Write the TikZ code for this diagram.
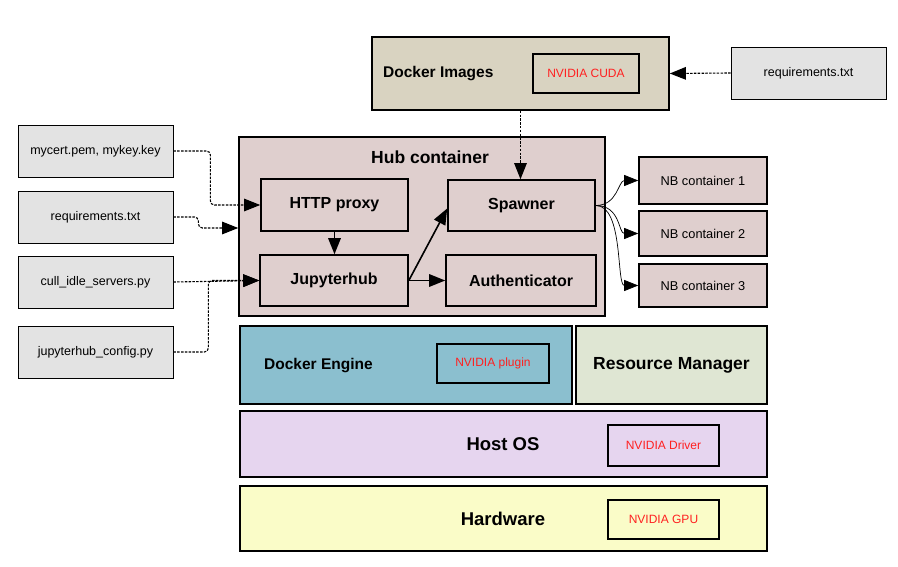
\documentclass[tikz,border=0pt]{standalone}
\usepackage{fontspec}
\setmainfont{Liberation Sans}
\usetikzlibrary{arrows.meta}
\definecolor{imgfill}{HTML}{D9D3C1}
\definecolor{hubfill}{HTML}{DFCFCE}
\definecolor{greyfill}{HTML}{E3E3E3}
\definecolor{engfill}{HTML}{8BBFCF}
\definecolor{rmfill}{HTML}{DFE6D3}
\definecolor{osfill}{HTML}{E6D5EF}
\definecolor{hwfill}{HTML}{FAFCC8}
\definecolor{nvred}{HTML}{FF2020}
\begin{document}
\begin{tikzpicture}[x=1pt,y=-1pt,
  blk/.style={draw=black, line width=1.6pt, inner sep=0pt, rectangle},
  inner/.style={blk, fill=hubfill, font=\fontsize{16}{19}\selectfont\bfseries},
  nbbox/.style={blk, fill=hubfill, font=\fontsize{12.8}{15}\selectfont},
  filebox/.style={draw=black, line width=0.8pt, fill=greyfill, inner sep=0pt, font=\fontsize{12.5}{15}\selectfont},
  nvbox/.style={blk, text=nvred, font=\fontsize{12}{14}\selectfont},
  bigtxt/.style={inner sep=0pt, font=\fontsize{15.5}{18}\selectfont\bfseries},
  hugetxt/.style={inner sep=0pt, font=\fontsize{17.5}{20}\selectfont\bfseries},
  hosttxt/.style={inner sep=0pt, font=\fontsize{18.5}{21}\selectfont\bfseries},
  tip/.style={-{Triangle[length=16pt,width=12.5pt]}},
  dline/.style={tip, line width=1.1pt, dash pattern=on 2.5pt off 1.3pt, rounded corners=4pt},
  sline/.style={tip, line width=1.6pt},
  cline/.style={-{Triangle[length=14pt,width=11pt]}, line width=0.7pt}
]
\useasboundingbox (0,0) rectangle (898,567);

% Docker images
\node[blk, fill=imgfill, minimum width=297, minimum height=73] (dimg) at (520.5,73.5) {};
\node[bigtxt, anchor=west] (dimgt) at (383,74) {Docker Images};
\node[nvbox, minimum width=106, minimum height=39] (cuda) at (586,73.5) {NVIDIA CUDA};
\node[filebox, minimum width=155, minimum height=52] (reqtop) at (808.5,73) {requirements.txt};

% Hub container
\node[blk, fill=hubfill, minimum width=366, minimum height=179] (hub) at (422,226.5) {};
\node[hugetxt] (hubt) at (430,157) {Hub container};
\node[inner, minimum width=147, minimum height=52] (proxy) at (334.5,205) {HTTP proxy};
\node[inner, minimum width=148, minimum height=51] (jhub) at (334,280.5) {Jupyterhub};
\node[inner, minimum width=147, minimum height=51] (spawn) at (521.5,205.5) {Spawner};
\node[inner, minimum width=150, minimum height=51] (auth) at (521,280.5) {Authenticator};

% NB containers
\node[nbbox, minimum width=128, minimum height=47] (nb1) at (703,180.5) {NB container 1};
\node[nbbox, minimum width=128, minimum height=45] (nb2) at (703,233.5) {NB container 2};
\node[nbbox, minimum width=128, minimum height=43] (nb3) at (703,285.5) {NB container 3};

% file boxes
\node[filebox, minimum width=155, minimum height=52] (cert) at (95.5,151) {mycert.pem, mykey.key};
\node[filebox, minimum width=155, minimum height=52] (req) at (95.5,217) {requirements.txt};
\node[filebox, minimum width=155, minimum height=52] (cull) at (95.5,282) {cull\_idle\_servers.py};
\node[filebox, minimum width=155, minimum height=52] (cfg) at (95.5,352) {jupyterhub\_config.py};

% layers
\node[blk, fill=engfill, minimum width=332, minimum height=78] (eng) at (406,365) {};
\node[bigtxt, anchor=west] (engt) at (264,365.5) {Docker Engine};
\node[nvbox, minimum width=112, minimum height=39] (plug) at (493,363.5) {NVIDIA plugin};
\node[blk, fill=rmfill, minimum width=191, minimum height=78, font=\fontsize{17.5}{20}\selectfont\bfseries] (rm) at (671.5,365) {Resource Manager};
\node[blk, fill=osfill, minimum width=527, minimum height=66] (os) at (503.5,444) {};
\node[hosttxt] (ost) at (503,444) {Host OS};
\node[nvbox, minimum width=111, minimum height=41] (drv) at (663.5,445.5) {NVIDIA Driver};
\node[blk, fill=hwfill, minimum width=527, minimum height=65] (hw) at (503.5,518.5) {};
\node[hosttxt] (hwt) at (503,518.5) {Hardware};
\node[nvbox, minimum width=111, minimum height=39] (gpu) at (663.5,519.5) {NVIDIA GPU};

% dashed connectors
\draw[dline] (cert.east) -- ++(37,0) |- (proxy.west);
\draw[dline] (req.east) -- ++(25,0) |- ([yshift=-1.5pt]hub.west);
\draw[dline] (cull.east) -- (jhub.west);
\draw[dline] (cfg.east) -- ++(35,0) |- (jhub.west);
\draw[dline] (reqtop.west) -- (dimg.east);
\draw[dline] (dimg.south) -- (dimg.south |- spawn.north);

% solid connectors
\draw[sline] (proxy.south) -- (proxy.south |- jhub.north);
\draw[sline] (jhub.east) -- ([yshift=-3pt]spawn.west);
\draw[sline] (jhub.east) -- (auth.west);

% spawner to NB containers
\draw[cline] (spawn.east) .. controls +(22,0) and +(-20,0) .. (nb1.west);
\draw[cline] (spawn.east) .. controls +(25,0) and +(-20,0) .. (nb2.west);
\draw[cline] (spawn.east) .. controls +(28,0) and +(-22,0) .. (nb3.west);
\end{tikzpicture}
\end{document}
